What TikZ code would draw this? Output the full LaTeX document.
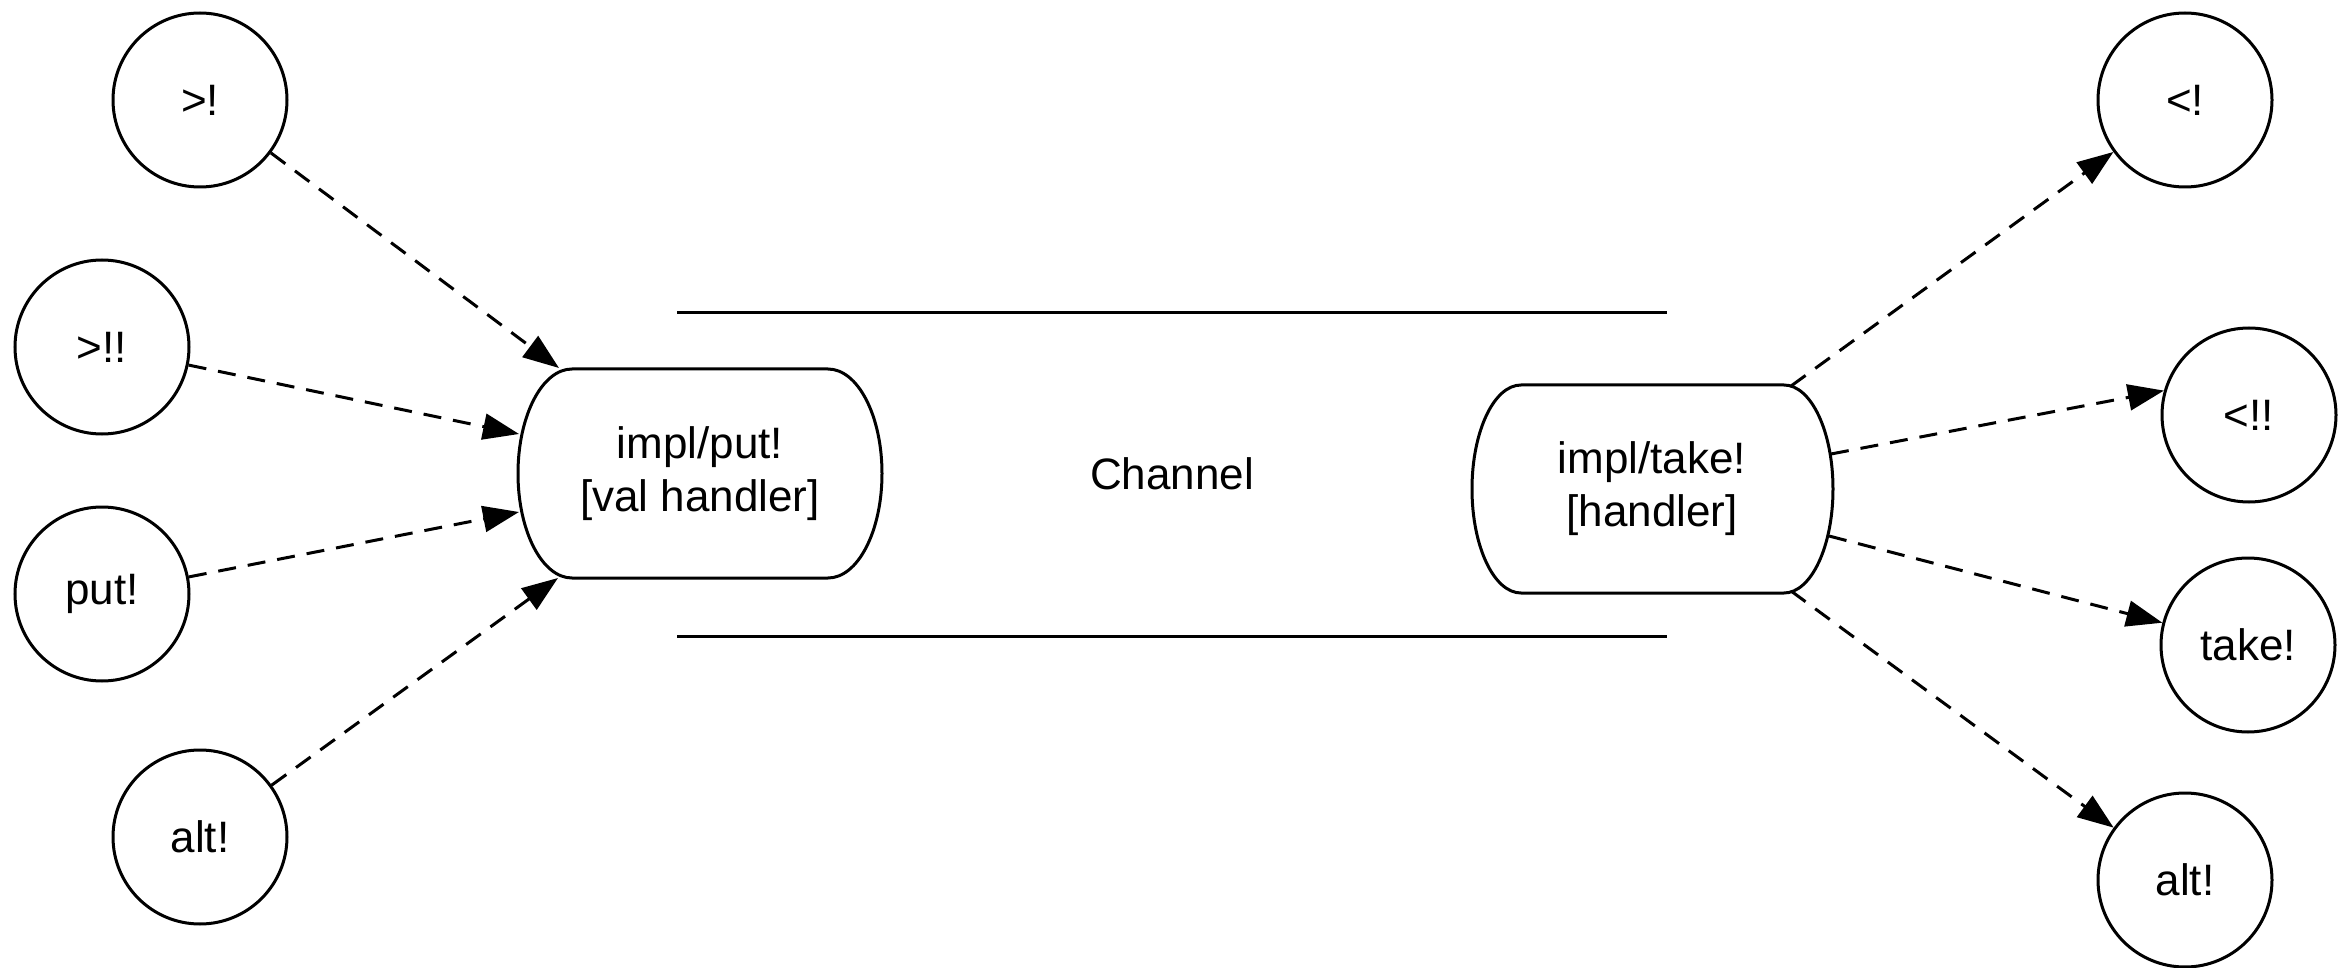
\documentclass[tikz,border=0pt]{standalone}
\usepackage{fontspec}
\setmainfont{Liberation Sans}
\usetikzlibrary{arrows.meta}

\begin{document}
\begin{tikzpicture}[x=0.5pt,y=-0.5pt,
  line width=1.5pt,
  every node/.style={font=\fontsize{22}{26.5}\selectfont},
  op/.style={draw, circle, minimum size=87pt, inner sep=0pt},
  flow/.style={dash pattern=on 9pt off 6pt, -{Triangle[length=18pt,width=13pt]}},
  txt/.style={align=center, inner sep=0pt}
]
\useasboundingbox (0,0) rectangle (2347,968);

% channel walls
\coordinate (wt1) at (677,313);
\coordinate (wt2) at (1667,313);
\coordinate (wb1) at (677,636);
\coordinate (wb2) at (1667,636);
\draw (wt1) -- (wt2);
\draw (wb1) -- (wb2);
\node[txt] (chan) at (1172,474) {Channel};

% put handler
\draw (572,369) -- (828,369)
  arc[start angle=90, end angle=-90, x radius=27pt, y radius=52.25pt]
  -- (572,578)
  arc[start angle=270, end angle=90, x radius=27pt, y radius=52.25pt] -- cycle;
\node[txt] (put) at (700,474) {impl/put!\\{}[val handler]};

% take handler
\draw (1521,385) -- (1784,385)
  arc[start angle=90, end angle=-90, x radius=24.5pt, y radius=52pt]
  -- (1521,593)
  arc[start angle=270, end angle=90, x radius=24.5pt, y radius=52pt] -- cycle;
\node[txt] (take) at (1652,489) {impl/take!\\{}[handler]};

% attachment points on the handlers
\coordinate (pin1) at (559,368);
\coordinate (pin2) at (519,434);
\coordinate (pin3) at (519,512);
\coordinate (pin4) at (558,578);
\coordinate (pout1) at (1791,386);
\coordinate (pout2) at (1831,454);
\coordinate (pout3) at (1829,536);
\coordinate (pout4) at (1791,591);

% producers
\node[op] (bput) at (200,100) {>!};
\node[op] (bbput) at (102,347) {>!!};
\node[op] (aput) at (102,594) {put!};
\node[op] (altp) at (200,837) {alt!};

% consumers
\node[op] (btake) at (2185,100) {<!};
\node[op] (bbtake) at (2249,415) {<!!};
\node[op] (atake) at (2248,645) {take!};
\node[op] (altt) at (2185,880) {alt!};

% incoming calls
\draw[flow] (bput) -- (pin1);
\draw[flow] (bbput) -- (pin2);
\draw[flow] (aput) -- (pin3);
\draw[flow] (altp) -- (pin4);

% outgoing calls
\draw[flow] (pout1) -- (btake);
\draw[flow] (pout2) -- (bbtake.164);
\draw[flow] (pout3) -- (atake);
\draw[flow] (pout4) -- (altt);
\end{tikzpicture}
\end{document}
